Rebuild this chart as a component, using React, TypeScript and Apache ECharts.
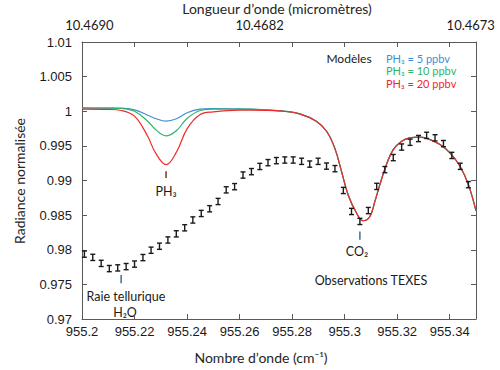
import React, { useEffect, useRef } from 'react';
import * as echarts from 'echarts';

// ---- Observations TEXES (wavenumber cm-1, normalised radiance) ----
const obsWavenumber = [
  955.2009, 955.2041, 955.2073, 955.2104, 955.2136, 955.2168, 955.2200, 955.2232,
  955.2263, 955.2295, 955.2327, 955.2359, 955.2391, 955.2422, 955.2454, 955.2486,
  955.2518, 955.2549, 955.2581, 955.2613, 955.2645, 955.2677, 955.2708, 955.2740,
  955.2772, 955.2804, 955.2836, 955.2867, 955.2899, 955.2931, 955.2963, 955.2995,
  955.3026, 955.3058, 955.3090, 955.3122, 955.3153, 955.3185, 955.3217, 955.3249,
  955.3281, 955.3312, 955.3344, 955.3376, 955.3408, 955.3440, 955.3471,
];
const obsRadiance = [
  0.97937, 0.97890, 0.97803, 0.97728, 0.97738, 0.97757, 0.97793, 0.97887,
  0.97993, 0.98051, 0.98141, 0.98230, 0.98317, 0.98430, 0.98524, 0.98592,
  0.98697, 0.98865, 0.98911, 0.99079, 0.99128, 0.99203, 0.99258, 0.99287,
  0.99296, 0.99296, 0.99277, 0.99237, 0.99277, 0.99208, 0.99171, 0.98856,
  0.98553, 0.98409, 0.98566, 0.98915, 0.99157, 0.99331, 0.99483, 0.99552,
  0.99606, 0.99652, 0.99616, 0.99533, 0.99362, 0.99205, 0.98940,
];
const OBS_ERR = 0.00045;

// ---- Models ----
const modelWavenumber = [
  955.2000, 955.2100, 955.2150, 955.2200, 955.2250, 955.2280, 955.2320, 955.2360,
  955.2400, 955.2450, 955.2500, 955.2600, 955.2638, 955.2765, 955.2829, 955.2892,
  955.2931, 955.2962, 955.2988, 955.3013, 955.3045, 955.3070, 955.3096, 955.3115,
  955.3134, 955.3159, 955.3185, 955.3217, 955.3248, 955.3286, 955.3325, 955.3363,
  955.3401, 955.3439, 955.3471, 955.3500,
];
const modelPH3_5 = [
  1.00050, 1.00045, 1.00045, 1.00021, 0.99943, 0.99895, 0.99856, 0.99891,
  0.99978, 1.00030, 1.00040, 1.00035, 1.00030, 1.00001, 0.99963, 0.99856,
  0.99711, 0.99471, 0.99132, 0.98795, 0.98530, 0.98419, 0.98481, 0.98698,
  0.98940, 0.99229, 0.99446, 0.99567, 0.99616, 0.99625, 0.99591, 0.99519,
  0.99399, 0.99205, 0.98940, 0.98560,
];
const modelPH3_10 = [
  1.00050, 1.00045, 1.00040, 1.00001, 0.99856, 0.99736, 0.99645, 0.99722,
  0.99895, 1.00011, 1.00030, 1.00030, 1.00030, 1.00001, 0.99963, 0.99856,
  0.99711, 0.99471, 0.99132, 0.98795, 0.98530, 0.98419, 0.98481, 0.98698,
  0.98940, 0.99229, 0.99446, 0.99567, 0.99616, 0.99625, 0.99591, 0.99519,
  0.99399, 0.99205, 0.98940, 0.98560,
];
const modelPH3_20 = [
  1.00030, 1.00026, 1.00011, 0.99929, 0.99639, 0.99398, 0.99229, 0.99413,
  0.99746, 0.99953, 0.99992, 1.00015, 1.00015, 1.00001, 0.99963, 0.99856,
  0.99711, 0.99471, 0.99132, 0.98795, 0.98530, 0.98419, 0.98481, 0.98698,
  0.98940, 0.99229, 0.99446, 0.99567, 0.99616, 0.99625, 0.99591, 0.99519,
  0.99399, 0.99205, 0.98940, 0.98560,
];
const modelNames = ['PH₃ = 5 ppbv', 'PH₃ = 10 ppbv', 'PH₃ = 20 ppbv'];
const modelColors = ['#3d8fd6', '#2fb36a', '#f02a2a'];

// ---- Top axis (wavelength, micrometres) ----
const topTickLabels = ['10.4690', '10.4682', '10.4673'];
const topTickPositions = [955.2028, 955.2676, 955.3480];

// ---- Annotation marks (wavenumber, top, bottom) ----
const annotNu = [955.2320, 955.3058, 955.2149];
const annotTop = [0.99132, 0.98264, 0.97637];
const annotBottom = [0.99037, 0.98144, 0.97517];
const annotColors = ['#7a1f1f', '#3a5f95', '#3a5f95'];

const TXT = 'Lato, "Open Sans", sans-serif';
const NUM = '"Liberation Sans", Arial, sans-serif';

export default function App() {
  const ref = useRef<HTMLDivElement>(null);
  useEffect(() => {
    if (!ref.current) return;
    const chart = echarts.init(ref.current, null, { renderer: 'svg' });
    const axisColor = '#595959';
    const zip = (a: number[], b: number[]) => a.map((x, i) => [x, b[i]]);
    const models = [modelPH3_5, modelPH3_10, modelPH3_20];
    chart.setOption({
      animation: false,
      backgroundColor: '#ffffff',
      grid: { left: 82, top: 42, width: 394, height: 277, containLabel: false },
      xAxis: [
        {
          type: 'value', position: 'bottom', min: 955.2, max: 955.35, interval: 0.02,
          axisLine: { onZero: false, lineStyle: { color: axisColor, width: 1 } },
          axisTick: { inside: true, length: 5, lineStyle: { color: axisColor } },
          splitLine: { show: false },
          axisLabel: {
            showMaxLabel: false, margin: 6, fontSize: 13, color: '#1a1a1a', fontFamily: NUM,
            formatter: (v: number) => String(+v.toFixed(2)),
          },
        },
        {
          type: 'value', position: 'top', min: 955.2, max: 955.35, interval: 0.02,
          axisLine: { onZero: false, lineStyle: { color: axisColor, width: 1 } },
          axisTick: { inside: true, length: 5, lineStyle: { color: axisColor } },
          splitLine: { show: false },
          axisLabel: {
            customValues: topTickPositions, margin: 11, fontSize: 13, color: '#1a1a1a', fontFamily: TXT,
            formatter: (v: number) => {
              let best = 0;
              topTickPositions.forEach((p, i) => {
                if (Math.abs(p - v) < Math.abs(topTickPositions[best] - v)) best = i;
              });
              return topTickLabels[best];
            },
          },
        },
      ],
      yAxis: [
        {
          type: 'value', position: 'left', min: 0.97, max: 1.01, interval: 0.005,
          axisLine: { show: true, onZero: false, lineStyle: { color: axisColor, width: 1 } },
          axisTick: { show: true, inside: true, length: 5, lineStyle: { color: axisColor } },
          splitLine: { show: false },
          axisLabel: {
            margin: 10, fontSize: 13, color: '#1a1a1a', fontFamily: NUM,
            formatter: (v: number) => String(+v.toFixed(3)),
          },
        },
        {
          type: 'value', position: 'right', min: 0.97, max: 1.01, interval: 0.005,
          axisLine: { show: true, onZero: false, lineStyle: { color: axisColor, width: 1 } },
          axisTick: { show: true, inside: true, length: 5, lineStyle: { color: axisColor } },
          splitLine: { show: false },
          axisLabel: { show: false },
        },
      ],
      series: [
        ...models.map((m, i) => ({
          type: 'line', name: modelNames[i], data: zip(modelWavenumber, m),
          smooth: 0.4, symbol: 'none', z: 3 + i,
          lineStyle: { color: modelColors[i], width: 1.2 },
        })),
        {
          type: 'custom', name: 'Observations TEXES', z: 10,
          data: zip(obsWavenumber, obsRadiance),
          renderItem: (_p: any, api: any) => {
            const x = api.value(0), y = api.value(1);
            const top = api.coord([x, y + OBS_ERR]);
            const bot = api.coord([x, y - OBS_ERR]);
            const w = 2.5;
            const style = { stroke: '#1a1a1a', lineWidth: 1.4 };
            return {
              type: 'group', children: [
                { type: 'line', shape: { x1: top[0], y1: top[1], x2: bot[0], y2: bot[1] }, style },
                { type: 'line', shape: { x1: top[0] - w, y1: top[1], x2: top[0] + w, y2: top[1] }, style },
                { type: 'line', shape: { x1: bot[0] - w, y1: bot[1], x2: bot[0] + w, y2: bot[1] }, style },
              ],
            };
          },
        },
        {
          type: 'custom', name: 'annotations', z: 10,
          data: annotNu.map((x, i) => [x, annotTop[i], annotBottom[i], i]),
          renderItem: (_p: any, api: any) => {
            const x = api.value(0);
            const a = api.coord([x, api.value(1)]);
            const b = api.coord([x, api.value(2)]);
            const idx = api.value(3);
            return {
              type: 'line', shape: { x1: a[0], y1: a[1], x2: b[0], y2: b[1] },
              style: { stroke: annotColors[idx], lineWidth: 1.4 },
            };
          },
        },
      ],
      graphic: [
        { type: 'text', x: 277, y: 8, style: { text: 'Longueur d’onde (micromètres)', font: `14px ${TXT}`, fill: '#262626', align: 'center', verticalAlign: 'middle' } },
        { type: 'text', x: 261, y: 357, style: { text: 'Nombre d’onde (cm⁻¹)', font: `14px ${TXT}`, fill: '#262626', align: 'center', verticalAlign: 'middle' } },
        { type: 'text', x: 19, y: 181, rotation: Math.PI / 2, style: { text: 'Radiance normalisée', font: `14px ${TXT}`, fill: '#262626', align: 'center', verticalAlign: 'middle' } },
        { type: 'text', x: 349, y: 58, style: { text: 'Modèles', font: `12px ${TXT}`, fill: '#1a1a1a', align: 'center', verticalAlign: 'middle' } },
        ...modelNames.map((n, i) => ({
          type: 'text', x: 386, y: 58 + i * 12.7,
          style: { text: n, font: `11px ${TXT}`, fill: modelColors[i], align: 'left', verticalAlign: 'middle' },
        })),
        { type: 'text', x: 166, y: 191, style: { text: 'PH₃', font: `12.5px ${TXT}`, fill: '#1a1a1a', align: 'center', verticalAlign: 'middle' } },
        { type: 'text', x: 357, y: 251, style: { text: 'CO₂', font: `12.5px ${TXT}`, fill: '#1a1a1a', align: 'center', verticalAlign: 'middle' } },
        { type: 'text', x: 126, y: 296, style: { text: 'Raie tellurique', font: `12.5px ${TXT}`, fill: '#1a1a1a', align: 'center', verticalAlign: 'middle' } },
        { type: 'text', x: 125, y: 312, style: { text: 'H₂O', font: `12.5px ${TXT}`, fill: '#1a1a1a', align: 'center', verticalAlign: 'middle' } },
        { type: 'text', x: 371, y: 280, style: { text: 'Observations TEXES', font: `12.5px ${TXT}`, fill: '#1a1a1a', align: 'center', verticalAlign: 'middle' } },
      ],
    });
    return () => chart.dispose();
  }, []);
  return <div ref={ref} style={{ width: 500, height: 370, position: 'absolute', left: 0, top: 0 }} />;
}
